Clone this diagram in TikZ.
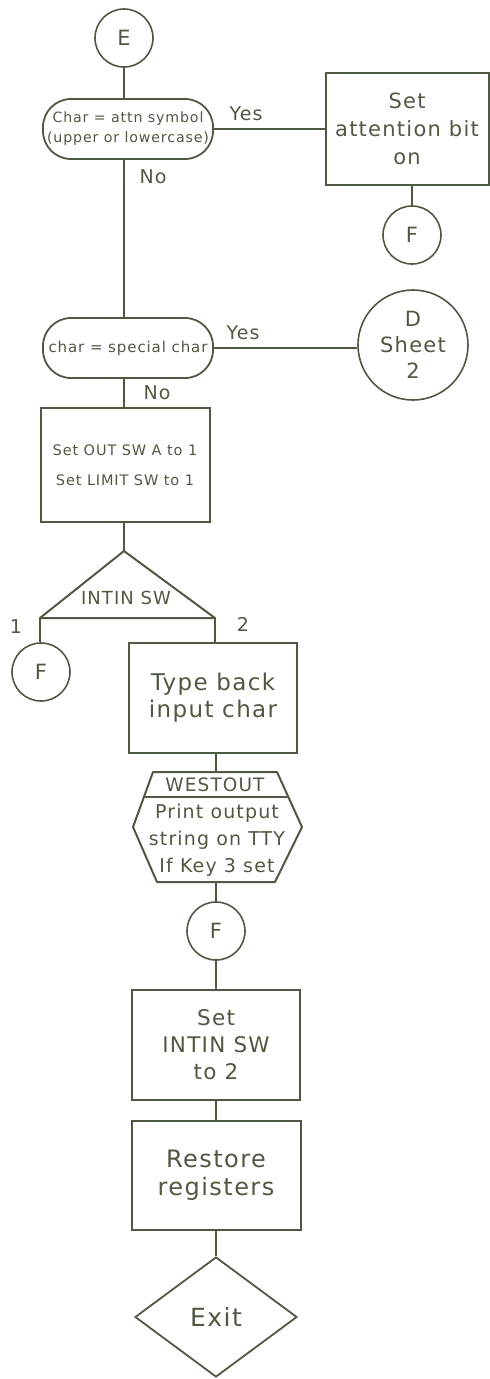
\documentclass[tikz,border=0pt]{standalone}
\usepackage{fontspec}
\setmainfont[LetterSpace=6]{DejaVu Sans}
\usetikzlibrary{shapes.geometric}
\definecolor{ink}{RGB}{78,88,66}

\begin{document}
\begin{tikzpicture}[x=1pt,y=-1pt,color=ink,line width=1.8pt,
  pbox/.style={draw,rectangle,line width=2pt,align=center,inner sep=0pt},
  link/.style={draw,circle,line width=1.6pt,minimum size=58pt,inner sep=0pt,font=\fontsize{21}{24}\selectfont},
  test/.style={draw,rectangle,rounded corners=28pt,line width=1.8pt,minimum width=170pt,minimum height=60pt,align=center,inner sep=0pt},
  lbl/.style={font=\fontsize{19}{23}\selectfont}]
\useasboundingbox (0,0) rectangle (490,1379);

% entry and first test
\node[link] (E) at (124,38) {E};
\node[test,font=\fontsize{14.2}{20}\selectfont] (attn) at (128,129) {Char = attn symbol\\(upper or lowercase)};
\node[pbox,minimum width=163pt,minimum height=112pt,font=\fontsize{21}{28}\selectfont] (setbit) at (407,129) {Set\\attention bit\\on};
\node[link] (F1) at (412,235) {F};
\draw (E.south) -- (E.south |- attn.north);
\draw (attn.east) -- (setbit.west);
\draw (F1.north |- setbit.south) -- (F1.north);
\node[lbl] at (246,114) {Yes};
\node[lbl] at (153,177) {No};

% special char test
\node[test,font=\fontsize{15}{19}\selectfont] (spec) at (128,348) {char = special char};
\node[link,minimum size=110pt,align=center,font=\fontsize{21}{26}\selectfont] (D) at (413,345) {D\\Sheet\\2};
\draw (E |- attn.south) -- (E |- spec.north);
\draw (spec.east) -- (spec.east -| D.west);
\node[lbl] at (243,333) {Yes};
\node[lbl] at (157,393) {No};

\node[pbox,minimum width=169pt,minimum height=114pt,font=\fontsize{14.5}{30}\selectfont] (setsw) at (125,465) {Set OUT SW A to 1\\Set LIMIT SW to 1};
\draw (E |- spec.south) -- (E |- setsw.north);

% switch on INTIN SW
\coordinate (tri top) at (124,551);
\coordinate (tri l) at (40,618);
\coordinate (tri r) at (215,618);
\draw[line width=2pt,line join=round] (tri top) -- (tri l) -- (tri r) -- cycle;
\node[font=\fontsize{18}{22}\selectfont] (intin) at (126,598) {INTIN SW};
\draw (setsw.south -| tri top) -- (tri top);
\node[lbl] at (16,627) {1};
\node[lbl] at (243,624) {2};
\node[link] (F2) at (41,672) {F};
\draw (tri l) -- (tri l |- F2.north);

\node[pbox,minimum width=168pt,minimum height=110pt,font=\fontsize{23}{27}\selectfont] (typeback) at (213,698) {Type back\\input char};
\draw (tri r) -- (tri r |- typeback.north);

% WESTOUT call
\coordinate (hex top) at (216,772);
\coordinate (hex bot) at (216,882);
\draw[line width=2pt,line join=round] (153,772) -- (277,772) -- (302,827) -- (275,882) -- (157,882) -- (133,827) -- cycle;
\draw[line width=2pt] (144,797) -- (288,797);
\node[font=\fontsize{18.5}{22}\selectfont] (westout) at (215,785) {WESTOUT};
\node[align=center,font=\fontsize{19}{27}\selectfont] (print) at (217,840) {Print output\\string on TTY\\If Key 3 set};
\draw (typeback.south -| hex top) -- (hex top);

\node[link] (F3) at (216,931) {F};
\draw (hex bot) -- (F3);

% tail
\node[pbox,minimum width=168pt,minimum height=110pt,font=\fontsize{21.5}{27}\selectfont] (setin) at (216,1045) {Set\\INTIN SW\\to 2};
\node[pbox,minimum width=169pt,minimum height=109pt,font=\fontsize{24}{28}\selectfont] (restore) at (216,1175) {Restore\\registers};
\node[draw,diamond,aspect=1.35,minimum width=162pt,minimum height=120pt,inner sep=0pt,line width=1.8pt,font=\fontsize{25}{28}\selectfont] (exit) at (216,1317) {Exit};
\draw (F3) -- (setin);
\draw (setin) -- (restore);
\draw (restore) -- (exit);
\end{tikzpicture}
\end{document}
